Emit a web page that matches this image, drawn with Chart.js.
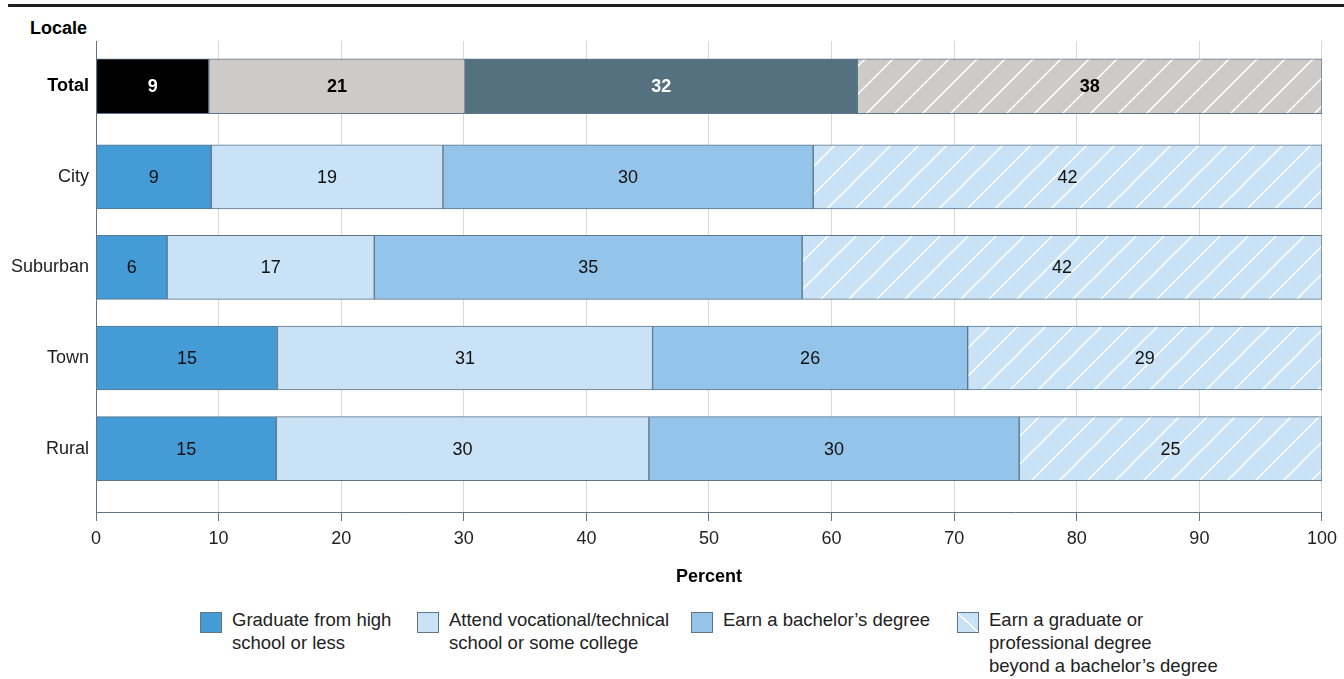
<!DOCTYPE html>
<html>
<head>
<meta charset="utf-8">
<script src="https://cdn.jsdelivr.net/npm/chart.js@4.4.1/dist/chart.umd.min.js"></script>
<style>
body { margin: 0; background: #fff; font-family: "Liberation Sans", Arial, sans-serif; }
#wrap { position: relative; width: 1344px; height: 679px; overflow: hidden; }
#rule { position: absolute; left: 8px; right: 0; top: 4px; height: 3px; background: #231f20; }
#locale { position: absolute; left: 30px; top: 18px; font-weight: bold; font-size: 18px; color: #000; }
#chart { position: absolute; left: 0; top: 0; }
.leg { position: absolute; top: 608px; display: flex; font-size: 18.5px; line-height: 23px; color: #222; }
.sw { width: 22px; height: 21px; border: 1px solid #5d7689; box-sizing: border-box; margin: 4px 10px 0 0; flex: none; }
</style>
</head>
<body>
<div id="wrap">
  <div id="rule"></div>
  <div id="locale">Locale</div>
  <canvas id="chart" width="1344" height="600"></canvas>
  <div id="legend"></div>
</div>
<script>
// locales, Total first
const categories = ['Total', 'City', 'Suburban', 'Town', 'Rural'];

// legend text, split the way the original wraps it
const seriesNames = [
    ['Graduate from high', 'school or less'],
    ['Attend vocational/technical', 'school or some college'],
    ['Earn a bachelor\u2019s degree'],
    ['Earn a graduate or', 'professional degree', 'beyond a bachelor\u2019s degree']
];

// percent per locale (same order as categories)
const highSchoolOrLess = [9.2, 9.4, 5.8, 14.8, 14.7];
const someCollege      = [20.9, 18.9, 16.9, 30.6, 30.4];
const bachelors        = [32.0, 30.2, 34.9, 25.7, 30.2];
const graduate         = [37.9, 41.5, 42.4, 28.9, 24.7];

const xTicks = [0, 10, 20, 30, 40, 50, 60, 70, 80, 90, 100];

const series = [highSchoolOrLess, someCollege, bachelors, graduate];
const blueFill  = ['#459bd5', '#c9e2f5', '#94c4e9', '#c9e2f5'];
const totalFill = ['#000000', '#cdcac7', '#557180', '#cdcac7'];
const totalText = ['#fff', '#000', '#fff', '#000'];
const hatched   = [false, false, false, true];
const edge = '#5d7689';
const FONT = '"Liberation Sans", Arial, sans-serif';

function hatch(base) {
    const s = 28;
    const c = document.createElement('canvas');
    c.width = c.height = s;
    const g = c.getContext('2d');
    g.fillStyle = base;
    g.fillRect(0, 0, s, s);
    g.strokeStyle = '#fff';
    g.lineWidth = 1.5;
    g.beginPath();
    g.moveTo(-2, s + 2); g.lineTo(s + 2, -2);
    g.moveTo(-2, 2); g.lineTo(2, -2);
    g.moveTo(s - 2, s + 2); g.lineTo(s + 2, s - 2);
    g.stroke();
    return g.createPattern(c, 'repeat');
}

const datasets = [];
// locale bars (blue)
series.forEach((arr, k) => {
    datasets.push({
        label: seriesNames[k].join(' '),
        stack: 'all',
        data: categories.slice(1).map((c, i) => ({ x: arr[i + 1], y: i + 1 })),
        backgroundColor: hatched[k] ? hatch(blueFill[k]) : blueFill[k],
        borderColor: edge,
        borderWidth: 1,
        borderSkipped: false,
        barThickness: 64,
        textColor: '#111',
        bold: false
    });
});
// Total bar (grey scheme)
series.forEach((arr, k) => {
    datasets.push({
        label: 'Total ' + k,
        stack: 'all',
        data: [{ x: arr[0], y: 0 }],
        backgroundColor: hatched[k] ? hatch(totalFill[k]) : totalFill[k],
        borderColor: edge,
        borderWidth: 1,
        borderSkipped: false,
        barThickness: 55,
        textColor: totalText[k],
        bold: true
    });
});

// numbers in the middle of each segment
const segLabels = {
    id: 'segLabels',
    afterDatasetsDraw(chart) {
        const ctx = chart.ctx;
        ctx.save();
        ctx.textAlign = 'center';
        ctx.textBaseline = 'middle';
        chart.data.datasets.forEach((ds, di) => {
            chart.getDatasetMeta(di).data.forEach((bar, j) => {
                const p = bar.getProps(['x', 'base', 'y'], true);
                ctx.fillStyle = ds.textColor;
                ctx.font = (ds.bold ? 'bold ' : '') + '18px ' + FONT;
                ctx.fillText(Math.round(ds.data[j].x), (p.x + p.base) / 2, p.y + 1);
            });
        });
        ctx.restore();
    }
};

new Chart(document.getElementById('chart'), {
    type: 'bar',
    data: { datasets: datasets },
    options: {
        responsive: false,
        animation: false,
        indexAxis: 'y',
        layout: { padding: { top: 41, right: 21, bottom: 10, left: 0 } },
        plugins: {
            legend: { display: false },
            tooltip: { enabled: false }
        },
        scales: {
            x: {
                stacked: true,
                min: 0,
                max: 100,
                afterBuildTicks: s => { s.ticks = xTicks.map(v => ({ value: v })); },
                ticks: {
                    color: '#222',
                    font: { family: FONT, size: 18 },
                    padding: 7,
                    maxRotation: 0
                },
                grid: { color: '#d9d9d9', tickColor: edge, tickLength: 9 },
                border: { color: edge, width: 1 },
                title: {
                    display: true,
                    text: 'Percent',
                    color: '#000',
                    font: { family: FONT, size: 18, weight: 'bold' },
                    padding: { top: 8, bottom: 2 }
                },
                afterFit: s => { s.height = 78; }
            },
            y: {
                type: 'linear',
                reverse: true,
                offset: false,
                min: -0.5,
                max: 4.7,
                afterBuildTicks: s => { s.ticks = categories.map((c, i) => ({ value: i })); },
                ticks: {
                    callback: v => categories[v],
                    color: c => (c.tick && c.tick.value === 0) ? '#000' : '#222',
                    font: c => ({
                        family: FONT,
                        size: 18,
                        weight: (c.tick && c.tick.value === 0) ? 'bold' : 'normal'
                    }),
                    padding: 7
                },
                grid: { display: false, drawTicks: false, offset: false },
                border: { color: edge, width: 1 },
                afterFit: s => { s.width = 96; }
            }
        }
    },
    plugins: [segLabels]
});

// legend in html so the text can wrap like the original
const legendLeft = [200, 417, 691, 957];
const legend = document.getElementById('legend');
seriesNames.forEach((lines, k) => {
    const item = document.createElement('div');
    item.className = 'leg';
    item.style.left = legendLeft[k] + 'px';
    const sw = document.createElement('div');
    sw.className = 'sw';
    if (hatched[k]) {
        sw.style.background = 'linear-gradient(to top right, ' + blueFill[k] + ' calc(50% - 1px), #fff calc(50% - 1px), #fff calc(50% + 0.5px), ' + blueFill[k] + ' calc(50% + 0.5px))';
    } else {
        sw.style.background = blueFill[k];
    }
    const txt = document.createElement('div');
    txt.innerHTML = lines.join('<br>');
    item.appendChild(sw);
    item.appendChild(txt);
    legend.appendChild(item);
});
</script>
</body>
</html>
